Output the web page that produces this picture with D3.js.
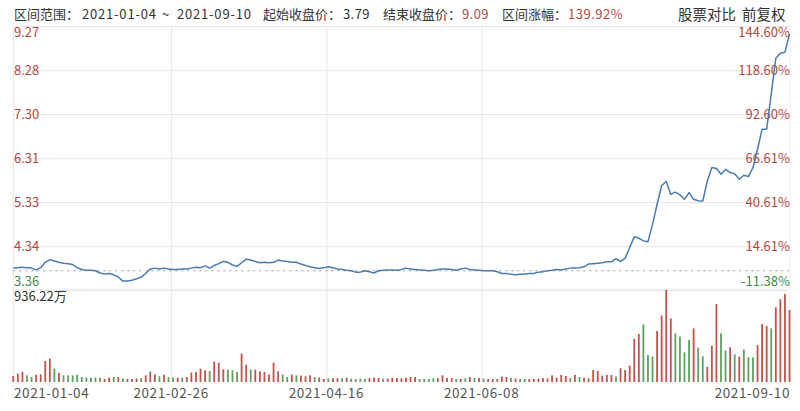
<!DOCTYPE html>
<html><head><meta charset="utf-8">
<script src="https://cdn.jsdelivr.net/npm/d3@7/dist/d3.min.js"></script>
<style>
body{margin:0;background:#fff;}
svg{display:block;font-family:"Noto Sans CJK SC","Microsoft YaHei",sans-serif;}
</style></head>
<body><svg id="c" width="800" height="411"></svg>
<script>
// ---- data ----
const closes = [3.85,3.86,3.87,3.86,3.85,3.81,3.86,3.98,4.04,4.01,
3.98,3.96,3.95,3.93,3.86,3.82,3.80,3.80,3.79,3.74,
3.72,3.73,3.70,3.65,3.56,3.56,3.58,3.61,3.65,3.73,
3.83,3.85,3.83,3.85,3.83,3.82,3.82,3.83,3.83,3.85,
3.87,3.86,3.90,3.85,3.91,3.95,4.00,3.98,3.92,3.89,
3.97,4.05,4.03,4.00,3.97,3.98,3.97,3.98,4.03,4.01,
4.00,3.98,3.98,3.94,3.91,3.88,3.86,3.84,3.86,3.88,
3.86,3.83,3.82,3.80,3.79,3.76,3.76,3.79,3.77,3.74,
3.79,3.80,3.81,3.81,3.80,3.82,3.85,3.83,3.82,3.81,
3.80,3.79,3.80,3.82,3.83,3.83,3.82,3.80,3.83,3.85,
3.82,3.81,3.80,3.79,3.79,3.79,3.77,3.73,3.73,3.71,
3.70,3.71,3.72,3.73,3.73,3.76,3.77,3.79,3.80,3.82,
3.81,3.83,3.85,3.85,3.86,3.88,3.94,3.95,3.96,3.97,
3.99,3.99,4.06,4.00,4.07,4.31,4.55,4.52,4.46,4.44,
4.83,5.28,5.70,5.79,5.50,5.55,5.49,5.39,5.54,5.39,
5.36,5.35,5.80,6.10,6.08,5.95,6.06,5.99,5.96,5.84,
5.93,5.90,6.10,6.51,6.96,6.96,7.75,8.55,8.66,8.68,
9.09];
const volumes = [61,85,102,68,51,75,78,214,238,136,
92,68,68,68,75,51,45,45,45,45,
31,45,51,51,35,31,31,35,38,68,
106,78,58,75,51,45,45,45,51,96,
102,136,119,112,208,197,129,126,119,102,
289,177,126,126,109,102,78,197,109,75,
51,75,68,65,58,68,51,45,31,35,
38,38,38,45,35,31,35,31,41,45,
41,31,35,45,41,38,45,51,51,31,
31,31,38,38,68,41,41,31,31,38,
51,41,41,35,31,31,31,55,51,41,
35,31,31,31,31,35,41,35,68,45,
73,61,41,73,51,45,38,122,112,65,
71,71,55,140,122,167,438,488,587,275,
258,519,676,936.22,648,495,462,302,427,546,
350,262,155,370,794,495,320,353,282,258,
330,251,251,377,590,570,546,760,842,896,
733];
// 1 = red (up), 0 = green (down)
const upFlags = [1,1,1,0,0,1,1,1,1,0,
1,0,0,0,0,0,0,0,0,0,
1,1,0,1,0,1,1,1,0,1,
1,1,0,1,0,0,1,0,1,1,
1,1,1,0,1,1,1,0,0,0,
1,1,0,1,1,1,1,1,1,0,
0,1,0,1,1,1,0,1,1,0,
1,1,0,1,0,0,0,0,1,1,
1,0,1,1,1,1,1,1,1,0,
0,0,0,1,1,1,1,0,1,0,
1,0,1,0,1,1,1,1,1,0,
1,0,0,1,1,1,1,1,1,1,
1,1,0,1,0,1,1,1,1,1,
1,1,0,1,1,1,1,1,0,0,
0,1,1,1,1,0,0,0,0,1,
0,0,1,1,1,0,0,1,0,1,
0,0,0,1,1,1,0,1,1,1,
1];
const priceTicks = [9.27, 8.28, 7.30, 6.31, 5.33, 4.34, 3.36];
const pctTicks = ["144.60%","118.60%","92.60%","66.61%","40.61%","14.61%","-11.38%"];
const dateTicks = ["2021-01-04","2021-02-26","2021-04-16","2021-06-08","2021-09-10"];
const dateTickIdx = [0, 35, 69, 103, 170];
const rangeStart = "2021-01-04", rangeEnd = "2021-09-10";
const startClose = 3.79, endClose = 9.09, rangePct = "139.92%";
const maxVolLabel = "936.22万";

// ---- chart ----
const svg = d3.select("#c");
const L = 13.3, R = 789.5, LR = 790;
const yTop = 26, pBot = 290, vBot = 382;
const red = "#c0544a", green = "#5fa05f", redTxt = "#b3483d", greenTxt = "#3f8c4c";

const x = d3.scaleLinear().domain([0, closes.length - 1]).range([L, R]);
const y = d3.scaleLinear().domain([3.36, 9.27]).range([pBot, yTop]);
const yv = d3.scaleLinear().domain([0, 936.22]).range([vBot, pBot]);

// horizontal gridlines via axis
const gY = svg.append("g").attr("transform", `translate(${L},0)`)
  .call(d3.axisLeft(y).tickValues(priceTicks).tickSize(-(LR - L)).tickFormat(""));
gY.select(".domain").remove();
gY.selectAll(".tick line").attr("stroke", "#e6e6e6");
svg.append("line").attr("x1", L).attr("x2", LR).attr("y1", pBot).attr("y2", pBot).attr("stroke", "#e6e6e6");

// vertical gridlines via axis
const gX = svg.append("g").attr("transform", `translate(0,${vBot})`)
  .call(d3.axisBottom(x).tickValues(dateTickIdx.slice(1, -1)).tickSize(-(vBot - yTop)).tickFormat(""));
gX.select(".domain").remove();
gX.selectAll(".tick line").attr("stroke", "#e6e6e6").attr("transform", "translate(-2,0)");
svg.append("line").attr("x1", L).attr("x2", L).attr("y1", yTop).attr("y2", vBot).attr("stroke", "#e6e6e6");
svg.append("line").attr("x1", LR).attr("x2", LR).attr("y1", yTop).attr("y2", vBot).attr("stroke", "#eeeeee");

// baseline dotted
svg.append("line").attr("x1", L).attr("x2", LR)
  .attr("y1", y(startClose)).attr("y2", y(startClose))
  .attr("stroke", "#999").attr("stroke-dasharray", "2,4").attr("stroke-width", 1);

// header
const hdr = svg.append("g").attr("font-size", 13).attr("fill", "#333");
hdr.append("text").attr("x", 14).attr("y", 19).text("区间范围：");
hdr.append("text").attr("x", 82).attr("y", 19).attr("letter-spacing", 0.8).text(rangeStart);
hdr.append("text").attr("x", 162).attr("y", 19).text("~");
hdr.append("text").attr("x", 177).attr("y", 19).attr("letter-spacing", 0.8).text(rangeEnd);
hdr.append("text").attr("x", 263).attr("y", 19).text("起始收盘价：");
hdr.append("text").attr("x", 343).attr("y", 19).attr("letter-spacing", 0.4).text(startClose.toFixed(2));
hdr.append("text").attr("x", 383).attr("y", 19).text("结束收盘价：");
hdr.append("text").attr("x", 462).attr("y", 19).attr("letter-spacing", 0.4).attr("fill", redTxt).text(endClose.toFixed(2));
hdr.append("text").attr("x", 502).attr("y", 19).text("区间涨幅：");
hdr.append("text").attr("x", 568).attr("y", 19).attr("letter-spacing", 0.5).attr("fill", redTxt).text(rangePct);
hdr.append("text").attr("x", 678).attr("y", 20).attr("font-size", 14.5).text("股票对比");
hdr.append("text").attr("x", 742).attr("y", 20).attr("font-size", 14.5).text("前复权");

// axis labels
const lab = svg.append("g").attr("font-size", 13);
priceTicks.forEach((v, i) => {
  let yy = y(v) + 5;
  if (i === 0) yy = y(v) + 11;
  if (i === priceTicks.length - 1) yy = y(v) - 4;
  const col = v < startClose ? greenTxt : redTxt;
  lab.append("text").attr("x", 14).attr("y", yy).attr("fill", col).text(v.toFixed(2));
  lab.append("text").attr("x", LR).attr("y", yy).attr("text-anchor", "end").attr("fill", col).text(pctTicks[i]);
});
lab.append("text").attr("x", 14).attr("y", 301).attr("fill", "#333").text(maxVolLabel);

// date labels
dateTicks.forEach((d, i) => {
  const anchor = i === 0 ? "start" : (i === dateTicks.length - 1 ? "end" : "middle");
  const xx = i === 0 ? 14 : (i === dateTicks.length - 1 ? LR : x(dateTickIdx[i]) - 2);
  svg.append("text").attr("x", xx).attr("y", 398).attr("font-size", 13.5)
    .attr("letter-spacing", 0.6)
    .attr("fill", "#555").attr("text-anchor", anchor).text(d);
});

// volume bars
svg.append("g").selectAll("rect").data(volumes).join("rect")
  .attr("x", (d, i) => x(i) - 0.9).attr("width", 1.8)
  .attr("y", d => yv(d)).attr("height", d => vBot - yv(d))
  .attr("fill", (d, i) => upFlags[i] ? red : green);

// price line
svg.append("path").datum(closes)
  .attr("fill", "none").attr("stroke", "#4a7bb0").attr("stroke-width", 1.5)
  .attr("stroke-linejoin", "round")
  .attr("d", d3.line().x((d, i) => x(i)).y(d => y(d)));
</script></body></html>
